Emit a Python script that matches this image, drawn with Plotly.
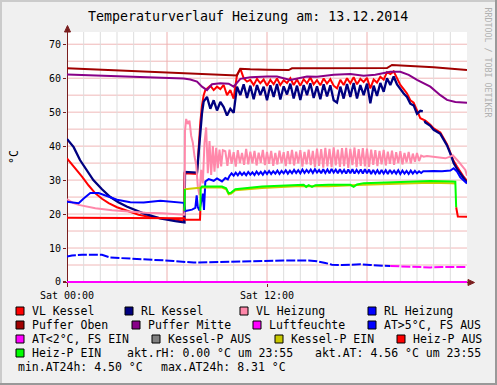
import plotly.graph_objects as go

# ---------------- data (hours of day / °C) ----------------
x_tick_vals = [0, 12]
x_tick_text = ["Sat 00:00", "Sat 12:00"]
y_tick_vals = [0, 10, 20, 30, 40, 50, 60, 70]


def grid(start, step, n):
    return [round(start + i * step, 4) for i in range(n)]


# Puffer Oben
t_po = [0, 2, 4, 6, 8, 9, 10.2, 10.4, 11, 12, 13.3, 13.5, 15, 16, 17, 18, 19.2, 19.5, 20.5, 22, 24]
v_po = [62.9, 62.5, 62.1, 61.7, 61.2, 61.0, 60.8, 62.8, 62.6, 62.5, 62.4, 62.9, 62.9, 63.1, 63.0, 63.0, 63.0, 63.9, 63.7, 63.2, 62.4]

# Puffer Mitte
t_pm = [0, 2, 4, 6, 7, 7.4, 7.8, 8.1, 8.4, 8.7, 9.2, 9.7, 10.0, 10.4, 11, 12, 12.6, 13.4, 14.4, 15, 16, 17, 17.8, 18.5, 19.4, 20.0,
        20.5, 21.0, 21.8, 22.4, 22.8, 23.3, 24]
v_pm = [61.1, 60.8, 60.5, 60.2, 59.9, 59.6, 59.0, 57.5, 56.5, 58.2, 58.5, 58.4, 57.5, 59.8, 60.3, 60.5, 60.5, 59.5, 60.5, 60.4,
        61.0, 61.2, 60.7, 61.0, 61.9, 61.9, 61.0, 59.5, 57.5, 55.0, 53.6, 53.0, 52.8]

# VL Kessel
t_vlk_a = [0, 0.5, 0.9, 1.3, 1.7, 2.1, 2.5, 3.0, 3.7, 4.3, 4.9, 5.5, 6.2, 7.0, 7.05, 7.8, 7.9, 8.0, 8.1, 8.2, 8.3]
v_vlk_a = [36.4, 33.5, 31.0, 28.4, 26.1, 24.5, 23.2, 22.0, 20.7, 19.8, 19.2, 18.8, 18.5, 18.1, 32.0, 31.8, 40.0, 47.0, 52.0, 55.0, 56.5]
v_vlk_day = [57.0, 57.8, 56.5, 57.5, 56.8, 58.0, 55.0, 56.5, 54.0, 61.0, 62.8, 60.0, 59.0, 59.5, 58.0, 59.8, 58.5, 59.6, 57.8,
             59.5, 58.2, 59.9, 58.0, 59.4, 58.6, 60.0, 58.0, 59.6, 57.8, 59.7, 58.5, 60.2, 58.2, 59.4, 57.9, 59.9, 58.4, 59.7,
             57.8, 57.0, 59.5, 58.0, 60.0, 58.5, 60.3, 58.2, 59.8, 58.9, 60.1, 57.0, 59.6, 58.7, 60.4, 59.6, 61.8, 61.2, 62.0,
             60.2, 58.0]
t_vlk_b = [20.2, 20.4, 20.6, 20.8, 21.0, 21.2, 21.5, 21.8, 22.0, 22.4, 22.8, 23.0, 23.2, 23.4, 23.6, 23.8, 24.0]
v_vlk_b = [56.8, 55.5, 53.5, 52.8, 50.5, 48.2, 47.5, 46.3, 45.2, 44.0, 40.6, 38.2, 35.6, 34.0, 32.4, 31.0, 29.8]

# RL Kessel
t_rlk_a = [0, 0.4, 0.78, 1.2, 1.58, 2.1, 2.58, 3.08, 3.58, 4.58, 5.58, 6.5, 7.05, 7.08, 7.8, 7.9, 8.0, 8.1, 8.2, 8.3]
v_rlk_a = [42.1, 39.7, 35.9, 32.7, 30.0, 27.3, 25.1, 23.5, 22.2, 20.2, 18.7, 17.9, 17.5, 32.4, 32.2, 38.0, 45.5, 49.7, 53.1, 54.0]
v_rlk_day = [54.5, 51.0, 53.5, 50.5, 53.0, 51.5, 49.0, 51.0, 49.8, 57.5, 55.0, 58.2, 54.2, 57.8, 53.8, 58.0, 55.0, 57.5, 53.5,
             57.9, 54.5, 58.3, 53.7, 57.6, 55.2, 58.4, 54.0, 57.8, 53.6, 58.0, 55.0, 58.5, 54.2, 57.6, 53.8, 58.2, 54.6, 57.9,
             53.5, 52.8, 57.5, 54.0, 58.3, 54.5, 58.6, 54.0, 58.0, 55.0, 58.4, 52.6, 57.8, 54.8, 58.6, 56.0, 60.0, 58.0, 60.5,
             58.2, 56.8]
t_rlk_b = [20.2, 20.4, 20.6, 20.8, 21.0, 21.2, 21.35, 21.4, 21.45, 21.5, 21.8, 22.0, 22.4, 22.8, 23.0, 23.2, 23.4, 23.6, 23.8, 24.0]
v_rlk_b = [55.5, 54.5, 52.5, 52.0, 49.5, 50.4, 50.2, None, 47.5, 47.0, 46.0, 44.8, 43.6, 40.2, 37.8, 35.0, 33.3, 32.0, 30.5, 29.2]

# VL Heizung
t_vlh_a = [0, 0.35, 0.7, 1.2, 1.7, 2.7, 3.7, 4.7, 5.7, 6.5, 7.05, 7.08, 7.15, 7.25, 7.35, 7.45, 7.55, 7.65, 7.75, 7.85, 7.95,
           8.05, 8.15, 8.25, 8.35, 8.45, 8.55, 8.65, 8.75, 8.85, 8.95, 9.05, 9.15, 9.25, 9.35]
v_vlh_a = [24.4, 23.3, 22.7, 22.1, 21.7, 21.1, 20.7, 20.4, 20.2, 20.0, 19.8, 44.5, 48.0, 46.5, 47.5, 43.0, 41.0, 37.0, 34.5,
           28.0, 25.5, 33.0, 29.0, 41.0, 45.5, 32.0, 41.5, 31.5, 40.0, 32.5, 39.5, 33.5, 39.0, 34.0, 38.8]
v_vlh_day = [38.5, 34.2, 39.0, 34.8, 38.2, 34.0, 38.8, 35.0, 38.0, 34.5, 39.2, 34.6, 38.4, 34.9, 38.6, 34.3, 38.1, 35.1, 38.9,
             34.4, 38.3, 34.8, 38.6, 34.2, 38.0, 34.6, 38.7, 35.0, 38.2, 34.1, 38.5, 34.7, 38.9, 34.3, 38.4, 34.9, 38.8, 34.0,
             38.3, 34.6, 39.0, 34.4, 38.6, 33.9, 39.3, 34.2, 39.1, 33.7, 39.5, 34.0, 39.2, 33.8, 39.6, 34.3, 39.0, 33.9, 39.4,
             34.1, 39.5, 33.6, 39.2, 34.4, 39.6, 33.8, 39.1, 34.2, 39.4, 34.0, 39.3, 33.9, 39.0, 34.5, 38.8, 34.1, 38.6, 34.6,
             38.9, 34.3, 38.4, 34.8, 38.7, 34.5, 38.2, 35.0, 38.5, 34.6, 38.0, 35.2, 38.3, 34.9, 37.8, 35.4, 38.0, 35.6, 37.2]
t_vlh_b = [21.4, 21.6, 21.9, 22.3, 22.7, 23.0, 23.15, 23.5, 23.9, 24.0]
v_vlh_b = [36.9, 37.1, 36.9, 36.7, 36.4, 36.9, 37.3, 35.4, 33.0, 31.3]

# RL Heizung
t_rlh_a = [0, 0.4, 0.7, 1.0, 1.4, 1.9, 2.4, 3.0, 3.8, 4.6, 5.6, 6.4, 7.0, 7.1, 7.3, 7.5, 7.7, 7.78, 7.85, 7.95, 8.05, 8.15,
           8.22, 8.3, 8.5, 8.8, 9.0, 9.3, 9.5, 9.65]
v_rlh_a = [23.6, 23.4, 23.2, 24.6, 26.2, 26.2, 25.3, 24.2, 23.5, 23.4, 23.9, 23.6, 23.3, 20.9, 21.0, 21.3, 21.8, 25.5, 22.0,
           21.0, 23.5, 26.0, 21.2, 29.6, 30.3, 29.8, 30.5, 29.6, 30.6, 30.2]
v_rlh_day = [31.2, 32.0, 31.3, 32.2, 31.4, 32.3, 31.5, 32.2, 31.4, 32.4, 31.6, 32.3, 31.5, 32.5, 31.7, 32.4, 31.6, 32.6, 31.8,
             32.7, 31.8, 32.6, 31.9, 32.8, 31.8, 32.7, 32.0, 32.9, 31.9, 32.8, 32.0, 33.0, 32.1, 32.9, 32.0, 33.1, 32.1, 33.0,
             32.2, 33.1, 32.1, 33.2, 32.2, 33.0, 32.0, 33.2, 32.1, 33.1, 32.0, 33.3, 32.2, 33.1, 32.0, 33.2, 32.1, 33.0, 31.9,
             33.1, 32.0, 33.2, 31.9, 33.0, 32.1, 33.1, 31.9, 33.2, 32.0, 33.1, 31.8, 33.0, 31.9, 32.9, 31.8, 33.0, 31.9, 32.9,
             31.8, 33.0, 32.0, 32.8, 31.9, 32.9, 31.8, 32.8, 31.9, 32.7, 31.8, 32.8, 31.9, 32.7, 32.0, 32.6, 32.1, 32.6]
t_rlh_b = [21.6, 22.0, 22.5, 23.0, 23.2, 23.4, 23.6, 23.8, 24.0]
v_rlh_b = [32.6, 32.7, 32.6, 32.8, 33.5, 32.5, 30.8, 29.8, 29.0]

# Aussentemperatur (blue part / magenta part)
t_at_hi = [0, 0.3, 0.9, 1.5, 2.1, 2.6, 3.5, 4.4, 5.4, 6.4, 7.6, 8.6, 9.7, 10.7, 11.7, 13.0, 14.5, 15.0, 15.5, 15.9, 16.5,
           17.6, 18.2, 18.8, 19.4]
v_at_hi = [7.5, 7.8, 8.0, 7.9, 8.0, 7.2, 7.0, 6.7, 6.5, 6.2, 5.7, 5.8, 6.0, 6.2, 6.3, 6.3, 6.3, 6.1, 5.6, 5.1, 5.0, 5.2,
           5.0, 4.8, 4.7]
t_at_lo = [19.4, 20.0, 21.0, 21.8, 22.5, 23.3, 24.0]
v_at_lo = [4.7, 4.6, 4.4, 4.3, 4.4, 4.4, 4.4]

# Luftfeuchte
t_rh = [0, 24]
v_rh = [0.0, 0.0]

# pump state lines
t_hp_aus = [0, 3, 7.05, 7.1, 7.98, 8.0, None, 23.35, 23.45, 24.0]
v_hp_aus = [18.9, 18.9, 18.8, 18.3, 18.3, 21.0, None, 22.0, 19.3, 19.2]
t_hp_ein = [7.05, 7.07, None, 8.0, 8.02, 8.1, 9.3, 9.55, 9.7, 9.85, 10.1, 11.7, 13.7, 14.2, 14.35, 14.5, 14.7, 14.9, 15.7,
            16.5, 17.0, 17.2, 17.4, 17.8, 19.8, 21.8, 23.1, 23.3, 23.35]
v_hp_ein = [21.0, 27.4, None, 21.0, 27.6, 28.1, 28.1, 27.6, 26.1, 26.3, 27.3, 28.1, 28.6, 28.6, 28.0, 28.5, 28.0, 28.5, 28.6,
            28.7, 28.6, 28.0, 28.7, 29.1, 29.5, 29.7, 29.6, 29.5, 22.0]
t_kp_ein = [7.07, 7.5, 8.0, 8.1, 9.3, 9.55, 9.7, 9.85, 10.1, 11.7, 13.7, 15.7, 17.8, 19.8, 21.8, 23.1, 23.3]
v_kp_ein = [27.3, 27.5, 27.6, 27.8, 27.8, 27.3, 25.8, 26.0, 27.0, 27.7, 28.2, 28.2, 28.6, 29.0, 29.2, 29.1, 29.0]

t_day_k = grid(8.4, 0.2, len(v_rlk_day))
t_vlh_day = grid(9.5, 0.125, len(v_vlh_day))
t_rlh_day = grid(9.75, 0.125, len(v_rlh_day))

legend_rows = [
    [("VL Kessel", "#FF0000"), ("RL Kessel", "#000080"), ("VL Heizung", "#FF88AA"), ("RL Heizung", "#0000FF")],
    [("Puffer Oben", "#A00000"), ("Puffer Mitte", "#880088"), ("Luftfeuchte", "#FF00FF"), ("AT>5°C, FS AUS", "#0000FF")],
    [("AT<2°C, FS EIN", "#FF00FF"), ("Kessel-P AUS", "#808080"), ("Kessel-P EIN", "#C8C800"), ("Heiz-P AUS", "#FF0000")],
    [("Heiz-P EIN", "#00FF00")],
]
info_row4 = ["akt.rH: 0.00 °C um 23:55", "akt.AT: 4.56 °C um 23:55"]
info_row5 = ["min.AT24h: 4.50 °C", "max.AT24h: 8.31 °C"]

# ---------------- layout geometry ----------------
W, H = 497, 385
L, R, T, B = 67, 467, 32, 283
YMIN, YMAX = -0.3, 73.6
MONO = "DejaVu Sans Mono"


def px(x):
    return (x - L) / (R - L)


def py(y):
    return (B - y) / (B - T)


fig = go.Figure()


def line(t, v, color, width=2, dash=None):
    fig.add_trace(go.Scatter(x=t, y=v, mode="lines", showlegend=False, hoverinfo="skip",
                             line=dict(color=color, width=width, dash=dash)))


line(t_vlk_a + t_day_k + t_vlk_b, v_vlk_a + v_vlk_day + v_vlk_b, "#FF0000")
line(t_rlk_a + t_day_k + t_rlk_b, v_rlk_a + v_rlk_day + v_rlk_b, "#000080", width=2.3)
line(t_vlh_a + t_vlh_day + t_vlh_b, v_vlh_a + v_vlh_day + v_vlh_b, "#FF88AA")
line(t_rlh_a + t_rlh_day + t_rlh_b, v_rlh_a + v_rlh_day + v_rlh_b, "#0000FF")
line(t_po, v_po, "#A00000")
line(t_pm, v_pm, "#880088")
line(t_rh, v_rh, "#FF00FF")
line(t_at_hi, v_at_hi, "#0000FF", dash="9px,2px")
line(t_at_lo, v_at_lo, "#FF00FF", dash="9px,2px")
line(t_kp_ein, v_kp_ein, "#CCCC00")
line(t_hp_aus, v_hp_aus, "#FF0000")
line(t_hp_ein, v_hp_ein, "#00FF00")

shapes = []
# horizontal grid
for v in range(5, 75, 5):
    shapes.append(dict(type="line", xref="paper", yref="y", x0=0, x1=1, y0=v, y1=v,
                       line=dict(color="#F0B8B8", width=1), layer="below"))
# vertical grid
for h in range(1, 24):
    col = "#EDB0B0" if h % 6 == 0 else "#DDDDDD"
    shapes.append(dict(type="line", xref="x", yref="paper", x0=h, x1=h, y0=0, y1=1,
                       line=dict(color=col, width=1), layer="below"))
AX = "#7A1E1E"
# y axis line + arrow
shapes.append(dict(type="line", xref="paper", yref="paper", x0=px(67.5), x1=px(67.5), y0=py(284), y1=py(28),
                   line=dict(color=AX, width=1), layer="below"))
shapes.append(dict(type="path", xref="paper", yref="paper",
                   path=f"M {px(64.5)},{py(32)} L {px(67.5)},{py(25.5)} L {px(70.5)},{py(32)} Z",
                   fillcolor=AX, line=dict(color=AX, width=1)))
# x axis line + arrow
shapes.append(dict(type="line", xref="paper", yref="paper", x0=px(63), x1=px(470), y0=py(282.5), y1=py(282.5),
                   line=dict(color=AX, width=1), layer="below"))
shapes.append(dict(type="path", xref="paper", yref="paper",
                   path=f"M {px(468)},{py(279.5)} L {px(474.5)},{py(282.5)} L {px(468)},{py(285.5)} Z",
                   fillcolor=AX, line=dict(color=AX, width=1)))
# frame shading
shapes += [
    dict(type="rect", xref="paper", yref="paper", x0=px(0), x1=px(W), y0=py(0), y1=py(2),
         fillcolor="#CBCBCB", line=dict(width=0)),
    dict(type="rect", xref="paper", yref="paper", x0=px(0), x1=px(2), y0=py(0), y1=py(H),
         fillcolor="#CBCBCB", line=dict(width=0)),
    dict(type="rect", xref="paper", yref="paper", x0=px(W - 2), x1=px(W), y0=py(0), y1=py(H),
         fillcolor="#999999", line=dict(width=0)),
    dict(type="rect", xref="paper", yref="paper", x0=px(0), x1=px(W), y0=py(H - 2), y1=py(H),
         fillcolor="#999999", line=dict(width=0)),
]

annotations = []


def text(x, y, s, size=11.5, anchor="left", color="#000000", angle=0):
    annotations.append(dict(x=px(x), y=py(y), xref="paper", yref="paper", text=s, showarrow=False,
                            xanchor=anchor, yanchor="middle", textangle=angle,
                            font=dict(family=MONO, size=size, color=color)))


text(248, 16.5, "Temperaturverlauf Heizung am: 13.12.2014", size=13.3, anchor="center")
text(14, 157, "°C", size=11.5, anchor="center", angle=-90)
text(487.5, 62, "RRDTOOL / TOBI OETIKER", size=8.3, anchor="center", color="#B0B0B0", angle=90)

row_y = [311, 325, 339, 353, 367]
square_x = [
    [16, 125, 240, 368],
    [16, 132, 253, 368],
    [16, 152, 275, 397],
    [16],
]
for r, entries in enumerate(legend_rows):
    for c, (lab, col) in enumerate(entries):
        sx = square_x[r][c]
        shapes.append(dict(type="rect", xref="paper", yref="paper", x0=px(sx), x1=px(sx + 8),
                           y0=py(row_y[r] - 4), y1=py(row_y[r] + 4), fillcolor=col,
                           line=dict(color="#000000", width=1)))
        text(sx + 14, row_y[r], lab)
text(125, row_y[3], info_row4[0])
text(313, row_y[3], info_row4[1])
text(16, row_y[4], info_row5[0])
text(158.5, row_y[4], info_row5[1])

fig.update_layout(
    width=W, height=H,
    margin=dict(l=L, r=W - R, t=T, b=H - B, pad=0),
    paper_bgcolor="#F0F0F0", plot_bgcolor="#FFFFFF",
    shapes=shapes, annotations=annotations,
    showlegend=False,
    xaxis=dict(range=[0, 24], showgrid=False, zeroline=False, showline=False,
               tickmode="array", tickvals=x_tick_vals, ticktext=x_tick_text,
               ticks="outside", ticklen=3, tickcolor=AX,
               tickfont=dict(family=MONO, size=10, color="#000000")),
    yaxis=dict(range=[YMIN, YMAX], showgrid=False, zeroline=False, showline=False,
               tickmode="array", tickvals=y_tick_vals,
               ticks="outside", ticklen=3, tickcolor=AX,
               tickfont=dict(family=MONO, size=10, color="#000000")),
)

fig.write_html("out.html", config={"displayModeBar": False},
               post_script="document.body.style.margin='0px';document.body.style.overflow='hidden';")
